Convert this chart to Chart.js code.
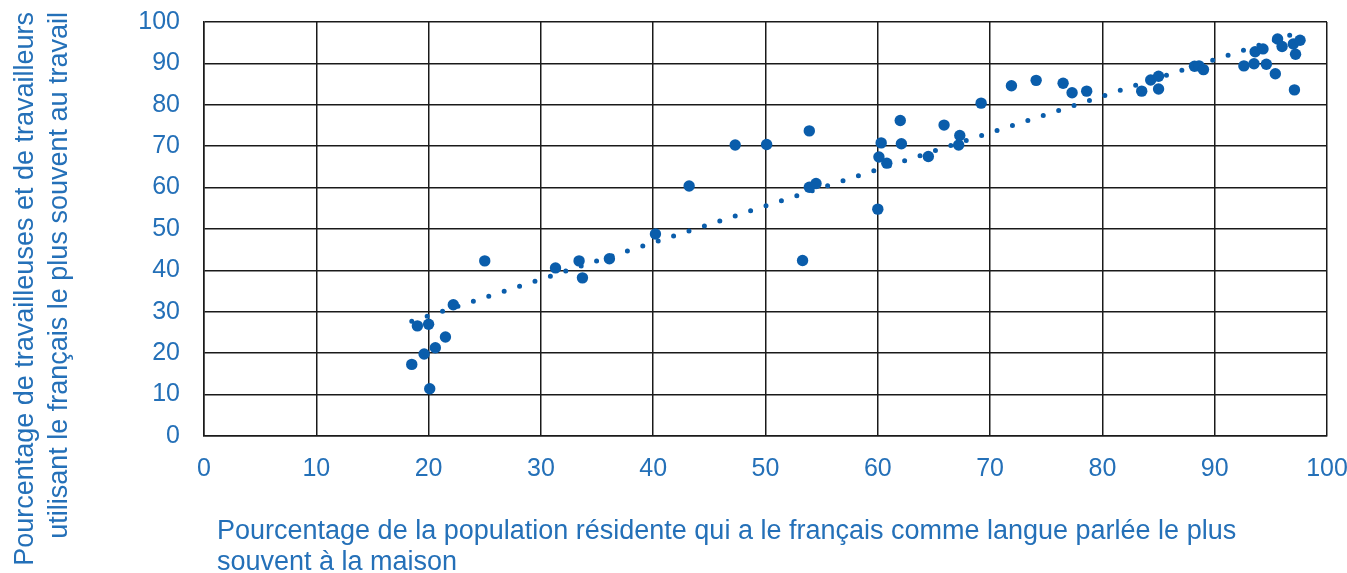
<!DOCTYPE html>
<html>
<head>
<meta charset="utf-8">
<script src="https://cdn.jsdelivr.net/npm/chart.js@4.4.1/dist/chart.umd.min.js"></script>
<style>
  html, body { margin: 0; padding: 0; background: #ffffff; }
  #wrap { width: 1347px; height: 573px; position: relative; }
</style>
</head>
<body>
<div id="wrap"><canvas id="c" width="1347" height="573"></canvas></div>
<script>
// Scatter data: % population speaking French most often at home (x)
// vs % workers using French most often at work (y)
const homeFrench = [
  18.5, 19.0, 19.6, 20.0, 20.1, 20.6, 21.5, 22.2, 25.0, 31.3,
  33.4, 33.7, 36.1, 40.2, 43.2, 47.3, 50.1, 53.3, 53.9, 53.9,
  54.5, 60.0, 60.1, 60.3, 60.8, 62.0, 62.1, 64.5, 65.9, 67.3,
  67.2, 69.2, 71.9, 74.1, 76.5, 77.3, 78.6, 83.5, 84.3, 85.0,
  85.0, 88.2, 88.6, 89.0, 92.6, 93.5, 93.6, 94.3, 94.6, 95.4,
  95.6, 96.0, 97.0, 97.6, 97.2, 97.1
];
const workFrench = [
  17.3, 26.6, 19.8, 27.0, 11.4, 21.3, 23.9, 31.7, 42.3, 40.6,
  42.3, 38.2, 42.8, 48.8, 60.4, 70.3, 70.4, 42.4, 73.7, 60.1,
  61.0, 54.8, 67.4, 70.8, 65.9, 76.2, 70.6, 67.5, 75.1, 72.6,
  70.3, 80.4, 84.6, 85.9, 85.2, 82.9, 83.3, 83.3, 86.0, 86.9,
  83.8, 89.3, 89.4, 88.5, 89.4, 89.9, 92.8, 93.5, 89.8, 87.5,
  95.9, 94.1, 94.7, 95.6, 92.2, 83.6
];
// Linear trend line end points
const trendX = [18.5, 97.1];
const trendY = [27.7, 97.2];
// Axis ticks
const tickValues = [0, 10, 20, 30, 40, 50, 60, 70, 80, 90, 100];
const xTitleLines = [
  "Pourcentage de la population résidente qui a le français comme langue parlée le plus",
  "souvent à la maison"
];
const yTitleLines = [
  "Pourcentage de travailleuses et de travailleurs",
  "utilisant le français le plus souvent au travail"
];

const DOT = '#0a5dab';
const TEXT = '#2470b8';
const GRID = '#1a1a1a';
const FONT = "'Liberation Sans', Arial, sans-serif";

const scatterPts = homeFrench.map((x, i) => ({ x: x, y: workFrench[i] }));
const trendPts = trendX.map((x, i) => ({ x: x, y: trendY[i] }));

const titlePlugin = {
  id: 'axisTitles',
  afterDraw(chart) {
    const ctx = chart.ctx;
    ctx.save();
    ctx.fillStyle = TEXT;
    ctx.font = "27px " + FONT;
    ctx.textBaseline = 'alphabetic';
    // x title, left aligned
    ctx.textAlign = 'left';
    ctx.fillText(xTitleLines[0], 217, 539);
    ctx.fillText(xTitleLines[1], 217, 570);
    // y title, rotated, end aligned at top
    const bx = [33, 67];
    yTitleLines.forEach((line, i) => {
      ctx.save();
      ctx.translate(bx[i], 12);
      ctx.rotate(-Math.PI / 2);
      ctx.textAlign = 'right';
      ctx.fillText(line, 0, 0);
      ctx.restore();
    });
    ctx.restore();
  }
};

new Chart(document.getElementById('c'), {
  type: 'scatter',
  data: {
    datasets: [
      {
        type: 'line',
        label: 'Tendance',
        data: trendPts,
        borderColor: DOT,
        borderWidth: 5,
        borderDash: [0, 16.2],
        borderCapStyle: 'round',
        pointRadius: 0,
        fill: false,
        tension: 0,
        order: 2
      },
      {
        label: 'Données',
        data: scatterPts,
        backgroundColor: DOT,
        borderWidth: 0,
        pointRadius: 5.7,
        pointHoverRadius: 5.7,
        order: 1
      }
    ]
  },
  options: {
    responsive: false,
    animation: false,
    devicePixelRatio: 1,
    layout: { padding: { left: 0, right: 20, top: 22, bottom: 0 } },
    plugins: {
      legend: { display: false },
      tooltip: { enabled: false }
    },
    scales: {
      x: {
        type: 'linear',
        min: 0, max: 100,
        afterBuildTicks(axis) { axis.ticks = tickValues.map(v => ({ value: v })); },
        afterFit(axis) {
          axis.height = 137;
          axis.paddingLeft = 0; axis.paddingRight = 0;
        },
        grid: { color: GRID, lineWidth: 1.5, drawTicks: false },
        border: { display: true, color: GRID, width: 1.5 },
        ticks: { color: TEXT, font: { family: FONT, size: 25 }, padding: 18, maxRotation: 0 }
      },
      y: {
        type: 'linear',
        min: 0, max: 100,
        afterBuildTicks(axis) { axis.ticks = tickValues.map(v => ({ value: v })); },
        afterFit(axis) {
          axis.width = 204;
          axis.paddingTop = 0; axis.paddingBottom = 0;
        },
        grid: { color: GRID, lineWidth: 1.5, drawTicks: false },
        border: { display: true, color: GRID, width: 1.5 },
        ticks: { color: TEXT, font: { family: FONT, size: 25 }, padding: 24 }
      }
    }
  },
  plugins: [titlePlugin]
});
</script>
</body>
</html>
